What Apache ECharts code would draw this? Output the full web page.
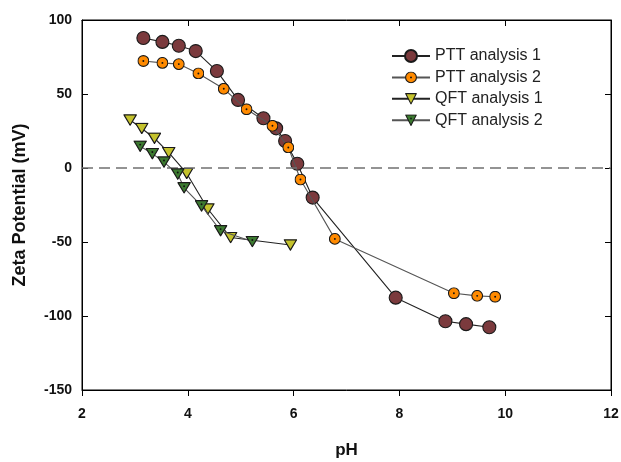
<!DOCTYPE html>
<html>
<head>
<meta charset="utf-8">
<script src="https://cdn.jsdelivr.net/npm/echarts@6/dist/echarts.min.js"></script>
<style>html,body{margin:0;padding:0;background:#fff;}#c{width:621px;height:462px;}</style>
</head>
<body>
<div id="c"></div>
<script>
// ---- data ----
const seriesNames = ['PTT analysis 1', 'PTT analysis 2', 'QFT analysis 1', 'QFT analysis 2'];
const ptt1X = [3.16, 3.52, 3.83, 4.15, 4.55, 4.95, 5.43, 5.67, 5.84, 6.07, 6.36, 7.93, 8.87, 9.26, 9.70];
const ptt1Y = [87.8, 85.2, 82.6, 79.0, 65.5, 46.0, 33.6, 26.8, 18.2, 2.9, -20.0, -87.6, -103.5, -105.5, -107.6];
const ptt2X = [3.16, 3.52, 3.83, 4.20, 4.68, 5.11, 5.60, 5.90, 6.13, 6.78, 9.03, 9.47, 9.81];
const ptt2Y = [72.3, 71.0, 70.2, 63.9, 53.5, 39.7, 28.5, 13.9, -7.8, -47.9, -84.6, -86.4, -87.0];
const qft1X = [2.91, 3.13, 3.37, 3.64, 3.98, 4.38, 4.81, 5.94];
const qft1Y = [32.4, 26.7, 20.1, 10.4, -3.7, -27.7, -47.0, -52.0];
const qft2X = [3.10, 3.33, 3.55, 3.81, 3.93, 4.26, 4.62, 5.22];
const qft2Y = [14.7, 9.7, 4.0, -4.1, -13.4, -25.6, -42.4, -49.7];
const xTicks = [2, 4, 6, 8, 10, 12];
const yTicks = [-150, -100, -50, 0, 50, 100];

function zip(xs, ys) { return xs.map((x, i) => [x, ys[i]]); }
function svgUri(s) { return 'image://data:image/svg+xml;charset=utf-8,' + encodeURIComponent(s); }

const orangeSym = svgUri("<svg xmlns='http://www.w3.org/2000/svg' width='24' height='24' viewBox='0 0 24 24'><circle cx='12' cy='12' r='10.8' fill='#ff8a00' stroke='#1a1a1a' stroke-width='2.2'/><circle cx='12' cy='12' r='1.9' fill='#111'/></svg>");
const greenSym = svgUri("<svg xmlns='http://www.w3.org/2000/svg' width='26' height='22' viewBox='0 0 26 22'><polygon points='1.5,1.5 24.5,1.5 13,20.5' fill='#3c7a30' stroke='#1a1a1a' stroke-width='2.2' stroke-linejoin='round'/><circle cx='13' cy='8' r='1.8' fill='#111'/></svg>");
const yellowSym = svgUri("<svg xmlns='http://www.w3.org/2000/svg' width='26' height='22' viewBox='0 0 26 22'><polygon points='1.5,1.5 24.5,1.5 13,20.5' fill='#c4c22c' stroke='#1a1a1a' stroke-width='2.2' stroke-linejoin='round'/></svg>");

const font = '"Liberation Sans", Arial, sans-serif';
const chart = echarts.init(document.getElementById('c'), null, {renderer: 'canvas'});

function axLine() { return {show: true, onZero: false, lineStyle: {color: '#000', width: 1}}; }
function tick(inside) { return {show: true, inside: inside, length: 6, lineStyle: {color: '#000', width: 1}}; }
function lbl(margin, ticks) {
  return {margin: margin, fontFamily: font, fontSize: 14, fontWeight: 'bold', color: '#111',
          formatter: v => ticks.includes(v) ? String(v) : ''};
}

chart.setOption({
  animation: false,
  backgroundColor: '#fff',
  grid: {left: 82, right: 10, top: 20, bottom: 72, containLabel: false, outerBoundsMode: 'none',
         show: true, borderColor: '#000', borderWidth: 1, backgroundColor: 'transparent'},
  legend: {
    orient: 'vertical', left: 386, top: 43,
    itemWidth: 38, itemHeight: 15, itemGap: 5.4,
    textStyle: {fontFamily: font, fontSize: 16, color: '#222'},
    data: seriesNames
  },
  xAxis: [
    {type: 'value', min: 2, max: 12, interval: 2, position: 'bottom',
     axisLine: axLine(), axisTick: tick(false), axisLabel: lbl(17, xTicks),
     splitLine: {show: false},
     name: 'pH', nameLocation: 'middle', nameGap: 52,
     nameTextStyle: {fontFamily: font, fontSize: 17, fontWeight: 'bold', color: '#111'}},
    {type: 'value', min: 2, max: 12, interval: 2, position: 'top',
     axisLine: axLine(), axisTick: tick(true),
     axisLabel: {show: false}, splitLine: {show: false}}
  ],
  yAxis: [
    {type: 'value', min: -150, max: 100, interval: 50, position: 'left',
     axisLine: axLine(), axisTick: tick(true), axisLabel: lbl(10, yTicks),
     splitLine: {show: false},
     name: 'Zeta Potential (mV)', nameLocation: 'middle', nameGap: 53, nameRotate: 90,
     nameTextStyle: {fontFamily: font, fontSize: 18, fontWeight: 'bold', color: '#111'}},
    {type: 'value', min: -150, max: 100, interval: 50, position: 'right',
     axisLine: axLine(), axisTick: tick(true),
     axisLabel: {show: false}, splitLine: {show: false}}
  ],
  series: [
    {name: seriesNames[0], type: 'line', data: zip(ptt1X, ptt1Y),
     symbol: 'circle', symbolSize: 13,
     itemStyle: {color: '#7b3a3d', borderColor: '#1a1a1a', borderWidth: 1.1},
     lineStyle: {color: '#222', width: 1.1}, z: 2,
     markLine: {silent: true, symbol: ['none', 'none'], label: {show: false},
       lineStyle: {color: '#707070', type: [11, 6], width: 1.6},
       data: [{yAxis: 0}]}},
    {name: seriesNames[1], type: 'line', data: zip(ptt2X, ptt2Y),
     symbol: orangeSym, symbolSize: 12,
     itemStyle: {color: '#ff8a00'},
     lineStyle: {color: '#555', width: 1.1}, z: 3},
    {name: seriesNames[2], type: 'line', data: zip(qft1X, qft1Y),
     symbol: yellowSym, symbolSize: [14, 12],
     itemStyle: {color: '#c4c22c'},
     lineStyle: {color: '#222', width: 1.1}, z: 4},
    {name: seriesNames[3], type: 'line', data: zip(qft2X, qft2Y),
     symbol: greenSym, symbolSize: [14, 12],
     itemStyle: {color: '#3c7a30'},
     lineStyle: {color: '#555', width: 1.1}, z: 5}
  ]
});
</script>
</body>
</html>
